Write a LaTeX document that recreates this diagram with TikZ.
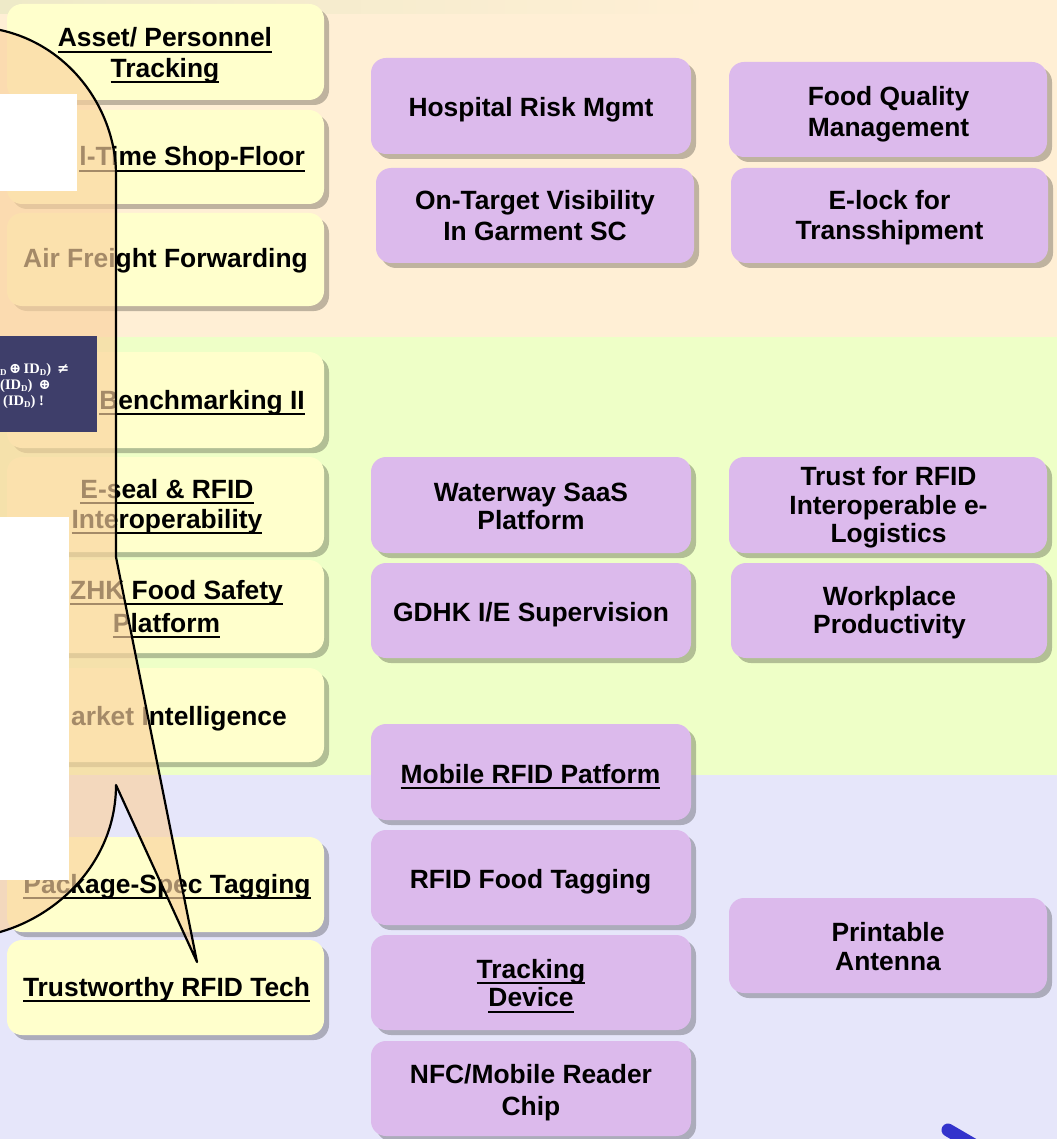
\documentclass[tikz,border=0pt]{standalone}
\usepackage{fontspec}
\setmainfont{Liberation Sans}
\newfontfamily\serifb{Liberation Serif}
\newfontfamily\symb{DejaVu Serif}
\usetikzlibrary{shadows}

\definecolor{topbg}{RGB}{255,239,213}
\definecolor{midbg}{RGB}{238,255,199}
\definecolor{botbg}{RGB}{230,230,250}
\definecolor{stripc}{RGB}{238,234,200}
\definecolor{yfill}{RGB}{255,255,204}
\definecolor{pfill}{RGB}{220,186,236}
\definecolor{calloutc}{RGB}{250,210,158}
\definecolor{darkbox}{RGB}{62,62,106}
\definecolor{arrowblue}{RGB}{51,51,204}

\newsavebox\ulbox
\newcommand\ulx[1]{\sbox\ulbox{#1}\rlap{\vrule height -4pt depth 6pt width \wd\ulbox}\usebox\ulbox}
\newcommand\subd{\raisebox{-2.5pt}{\fontsize{9}{9}\selectfont D}}

\tikzset{
  boxbase/.style={rectangle, rounded corners=15pt, inner sep=0pt, draw=none,
    drop shadow={shadow xshift=5pt, shadow yshift=-5pt, opacity=0.25, fill=black}},
  ybox/.style={boxbase, fill=yfill},
  pbox/.style={boxbase, fill=pfill},
  txt/.style={font=\fontsize{26.4}{30}\selectfont\bfseries, inner sep=0pt, anchor=base, text=black},
  txtr/.style={txt, anchor=base east},
  mtxt/.style={font=\serifb\fontsize{14.5}{16}\selectfont\bfseries, inner sep=0pt, anchor=base west, text=white},
}
\newcommand\bx[6]{\node[#1, minimum width=#4pt, minimum height=#5pt] (#6) at (#2,#3) {};}

\begin{document}
\begin{tikzpicture}[x=1pt,y=-1pt]
\useasboundingbox (0,0) rectangle (1057,1139);
\clip (0,0) rectangle (1057,1139);

% background bands
\fill[topbg] (0,0) rectangle (1057,337);
\fill[midbg] (0,337) rectangle (1057,775);
\fill[botbg] (0,775) rectangle (1057,1139);
\shade[left color=stripc, right color=topbg] (0,0) rectangle (720,14);

% left yellow boxes
\bx{ybox}{165.5}{52}{317}{96}{y1}
\bx{ybox}{165.5}{157}{317}{94}{y2}
\bx{ybox}{165.5}{259.5}{317}{93}{y3}
\bx{ybox}{165.5}{400}{317}{96}{y4}
\bx{ybox}{165.5}{504.5}{317}{95}{y5}
\bx{ybox}{165.5}{606.5}{317}{93}{y6}
\bx{ybox}{165.5}{715}{317}{94}{y7}
\bx{ybox}{165.5}{884.5}{317}{95}{y8}
\bx{ybox}{165.5}{987.5}{317}{95}{y9}

% purple boxes
\bx{pbox}{531}{106}{320}{96}{p1}
\bx{pbox}{535}{215.5}{318}{95}{p2}
\bx{pbox}{888}{109.5}{318}{95}{p3}
\bx{pbox}{889.5}{215.5}{317}{95}{p4}
\bx{pbox}{531}{505}{320}{96}{p5}
\bx{pbox}{531}{610.5}{320}{95}{p6}
\bx{pbox}{888}{505}{318}{96}{p7}
\bx{pbox}{889}{610.5}{316}{95}{p8}
\bx{pbox}{531}{772}{320}{96}{p9}
\bx{pbox}{531}{877.5}{320}{95}{p10}
\bx{pbox}{531}{982.5}{320}{95}{p11}
\bx{pbox}{531}{1088.5}{320}{95}{p12}
\bx{pbox}{888}{945.5}{318}{95}{p13}

% yellow box texts
\node[txt] (t1a) at (165,47) {\ulx{Asset/ Personnel}};
\node[txt] (t1b) at (165,77.5) {\ulx{Tracking}};
\node[txtr] (t2) at (305,166) {\ulx{l-Time Shop-Floor}};
\node[txt] (t3) at (165.5,268) {Air Freight Forwarding};
\node[txtr] (t4) at (305,409) {\ulx{Benchmarking II}};
\node[txt] (t5a) at (167,498) {\ulx{E-seal \& RFID}};
\node[txt] (t5b) at (167,528) {\ulx{Interoperability}};
\node[txtr] (t6a) at (283,599) {\ulx{ZHK Food Safety}};
\node[txt] (t6b) at (166.5,632) {\ulx{Platform}};
\node[txtr] (t7) at (287,725) {arket Intelligence};
\node[txt] (t8) at (167,893) {\ulx{Package-Spec Tagging}};
\node[txt] (t9) at (166.5,996) {\ulx{Trustworthy RFID Tech}};

% purple box texts
\node[txt] (q1) at (531,117) {Hospital Risk Mgmt};
\node[txt] (q2a) at (535,210) {On-Target Visibility};
\node[txt] (q2b) at (535,240.5) {In Garment SC};
\node[txt] (q3a) at (888.5,105.5) {Food Quality};
\node[txt] (q3b) at (888.5,136.5) {Management};
\node[txt] (q4a) at (889.5,210) {E-lock for};
\node[txt] (q4b) at (889.5,240) {Transshipment};
\node[txt] (q5a) at (531,501) {Waterway SaaS};
\node[txt] (q5b) at (531,529) {Platform};
\node[txt] (q6) at (531,621.5) {GDHK I/E Supervision};
\node[txt] (q7a) at (888.5,485) {Trust for RFID};
\node[txt] (q7b) at (888.5,514) {Interoperable e-};
\node[txt] (q7c) at (888.5,542) {Logistics};
\node[txt] (q8a) at (889.5,605.5) {Workplace};
\node[txt] (q8b) at (889.5,633) {Productivity};
\node[txt] (q9) at (530.5,783) {\ulx{Mobile RFID Patform}};
\node[txt] (q10) at (530.5,888) {RFID Food Tagging};
\node[txt] (q11a) at (531,978) {\ulx{Tracking}};
\node[txt] (q11b) at (531,1006.5) {\ulx{Device}};
\node[txt] (q12a) at (531,1083.5) {NFC/Mobile Reader};
\node[txt] (q12b) at (531,1115) {Chip};
\node[txt] (q13a) at (888,941.5) {Printable};
\node[txt] (q13b) at (888,970) {Antenna};

% callout
\path[fill=calloutc, fill opacity=0.66, draw=black, line width=2.2pt, line join=round]
  (-50,20) -- (0,30) .. controls (70,45) and (116,110) .. (116,175)
  -- (116,557) -- (197,962) -- (116,785)
  .. controls (116,860) and (60,915) .. (0,932) -- (-50,945) -- cycle;

% white covers
\fill[white] (0,94) rectangle (77,191);
\fill[white] (0,517) rectangle (69,880);

% dark box with formula
\fill[darkbox] (0,336) rectangle (97,432);
\node[mtxt] (f1) at (0,373) {\subd\,{\symb\bfseries ⊕}\,ID\subd) \,{\symb\bfseries ≠}};
\node[mtxt] (f2) at (0,389) {(ID\subd) \,{\symb\bfseries ⊕}};
\node[mtxt] (f3) at (3,405) {(ID\subd) !};

% blue arrow stub
\coordinate (arrS) at (948,1130);
\coordinate (arrE) at (1008,1165);
\draw[arrowblue, line width=13pt, line cap=round] (arrS) -- (arrE);
\end{tikzpicture}
\end{document}
